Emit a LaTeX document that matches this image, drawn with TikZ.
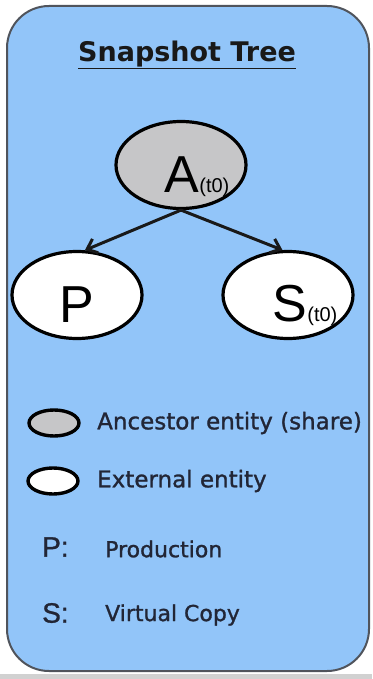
\documentclass[tikz,border=0pt]{standalone}
\usepackage{fontspec}
\setmainfont{DejaVu Sans}
\newfontfamily\arialfont{Liberation Sans}
\newfontfamily\keyfont{Liberation Sans}[FakeBold=1]
\newfontfamily\legfont{DejaVu Sans}[FakeBold=1.2]
\usetikzlibrary{arrows.meta,shapes.geometric,positioning}

\definecolor{boxblue}{RGB}{146,197,249}
\definecolor{boxedge}{RGB}{80,84,92}
\definecolor{entgray}{RGB}{198,198,200}
\definecolor{legink}{RGB}{34,38,54}

\tikzset{
  entity/.style={ellipse,draw=black,line width=3.2pt,minimum width=130pt,minimum height=87pt,inner sep=0pt},
  smallent/.style={ellipse,draw=black,line width=3.4pt,minimum width=50pt,minimum height=26pt,inner sep=0pt},
  entlabel/.style={text=black,font=\arialfont\fontsize{52}{52}\selectfont,inner sep=0pt},
  legtext/.style={anchor=west,text=legink,font=\legfont\fontsize{23}{23}\selectfont,inner sep=0pt},
  keyletter/.style={anchor=west,text=legink,font=\keyfont\fontsize{28}{28}\selectfont,inner sep=0pt},
  treearrow/.style={draw=black!90,line width=3pt,-{Straight Barb[length=9pt,width=15pt,line width=3pt]}}
}

\newcommand{\tsub}[1]{{\fontsize{20}{20}\selectfont #1}}

\begin{document}
\begin{tikzpicture}[line cap=round,line join=round,x=1pt,y=-1pt]
  \useasboundingbox (0,0) rectangle (372,679);
  \fill[black!18] (0,674) rectangle (372,679);

  % panel
  \draw[boxedge,fill=boxblue,line width=2pt,rounded corners=42pt] (7,6) rectangle (369,671);

  \node[text=black!90,font=\bfseries\fontsize{27}{27}\selectfont,inner sep=0pt] (title) at (187,55) {\underline{Snapshot Tree}};

  % tree
  \node[entity,fill=entgray,label={[entlabel,xshift=16pt,yshift=-12pt]center:A\tsub{(t0)}}] (A) at (181,165) {};
  \node[entity,fill=white,label={[entlabel,yshift=-10pt]center:P}] (P) at (77,295) {};
  \node[entity,fill=white,label={[entlabel,xshift=17pt,yshift=-10pt]center:S\tsub{(t0)}}] (S) at (288,295) {};

  \draw[treearrow] (A.south) -- (P.80);
  \draw[treearrow] (A.south) -- (S.97);

  % legend
  \node[smallent,fill=entgray] (lanc) at (54,423) {};
  \node[legtext] (tanc) at (97,423) {Ancestor entity (share)};
  \node[smallent,fill=white] (lext) at (53,481) {};
  \node[legtext] (text) at (97,481) {External entity};
  \node[keyletter] (kp) at (42,547) {P:};
  \node[legtext,font=\legfont\fontsize{22}{22}\selectfont] (tprod) at (105,549) {Production};
  \node[keyletter] (ks) at (42,613) {S:};
  \node[legtext,font=\legfont\fontsize{22}{22}\selectfont] (tvirt) at (105,615) {Virtual Copy};
\end{tikzpicture}
\end{document}
